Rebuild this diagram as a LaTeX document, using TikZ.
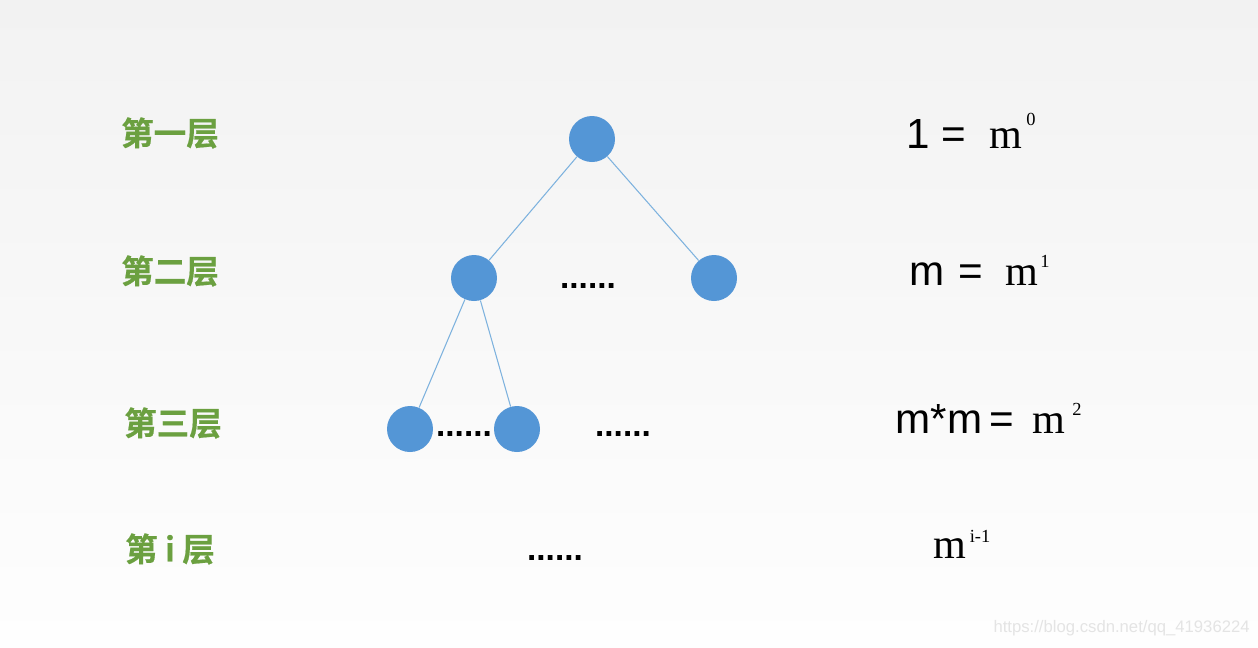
\documentclass[tikz,border=0pt]{standalone}
\usepackage{fontspec}
\setmainfont{Liberation Serif}
\newfontfamily\arial{Liberation Sans}
\newfontfamily\cjkb{Noto Sans CJK SC Bold}[FakeBold=0.6]
\definecolor{nodeblue}{RGB}{84,150,214}
\definecolor{edgeblue}{RGB}{125,178,222}
\definecolor{lvlgreen}{RGB}{107,160,64}
\definecolor{bgtop}{RGB}{242,242,242}
\definecolor{bgbot}{RGB}{254,254,254}
\definecolor{wm}{RGB}{228,228,228}
\begin{document}
\begin{tikzpicture}[x=0.02cm,y=-0.02cm,
  treenode/.style={circle,fill=nodeblue,draw=none,minimum size=0.92cm,inner sep=0pt},
  treeedge/.style={draw=edgeblue,line width=0.6pt},
  lvl/.style={text=lvlgreen,font=\cjkb\fontsize{18.5}{20}\selectfont,inner sep=0pt},
  dotsnode/.style={font=\arial\bfseries\fontsize{19}{20}\selectfont,inner sep=0pt,anchor=base},
  sansf/.style={font=\arial\fontsize{24}{26}\selectfont,inner sep=0pt,anchor=base},
  seriff/.style={font=\fontsize{24}{26}\selectfont,inner sep=0pt,anchor=base},
  supf/.style={font=\fontsize{10.5}{12}\selectfont,inner sep=0pt,anchor=base}
]
\useasboundingbox (0,0) rectangle (1258,647);
\shade[top color=bgtop,bottom color=bgbot] (0,0) rectangle (1258,647);

% level labels
\node[lvl] (l1) at (170,133) {第一层};
\node[lvl] (l2) at (170,271) {第二层};
\node[lvl] (l3) at (173,423) {第三层};
\node[lvl] (l4) at (170,549) {第 i 层};

% tree
\node[treenode] (r) at (592,139) {};
\node[treenode] (a) at (474,278) {};
\node[treenode] (b) at (714,278) {};
\node[treenode] (c) at (410,429) {};
\node[treenode] (d) at (517,429) {};
\draw[treeedge] (r) -- (a);
\draw[treeedge] (r) -- (b);
\draw[treeedge] (a) -- (c);
\draw[treeedge] (a) -- (d);

% dots
\node[dotsnode] (dots2) at (588,288) {......};
\node[dotsnode] (dots3a) at (464,436) {......};
\node[dotsnode] (dots3b) at (623,436) {......};
\node[dotsnode] (dots4) at (555,560) {......};

% formulas
\node[sansf] (f1a) at (918,148) {1};
\node[sansf] (f1b) at (954,148) {=};
\node[seriff] (f1c) at (1006,148) {m};
\node[supf] (f1d) at (1031,125) {0};

\node[sansf] (f2a) at (927,285) {m};
\node[sansf] (f2b) at (971,285) {=};
\node[seriff] (f2c) at (1022,285) {m};
\node[supf] (f2d) at (1045,267) {1};

\node[sansf] (f3a) at (939,433) {m*m};
\node[sansf] (f3b) at (1002,433) {=};
\node[seriff] (f3c) at (1049,433) {m};
\node[supf] (f3d) at (1077,415) {2};

\node[seriff] (f4a) at (950,558) {m};
\node[supf] (f4b) at (980,542) {i-1};

% watermark
\node[font=\arial\fontsize{9.5}{11}\selectfont,text=wm,inner sep=0pt,anchor=east] (wmk) at (1250,628) {https://blog.csdn.net/qq\_41936224};
\end{tikzpicture}
\end{document}
